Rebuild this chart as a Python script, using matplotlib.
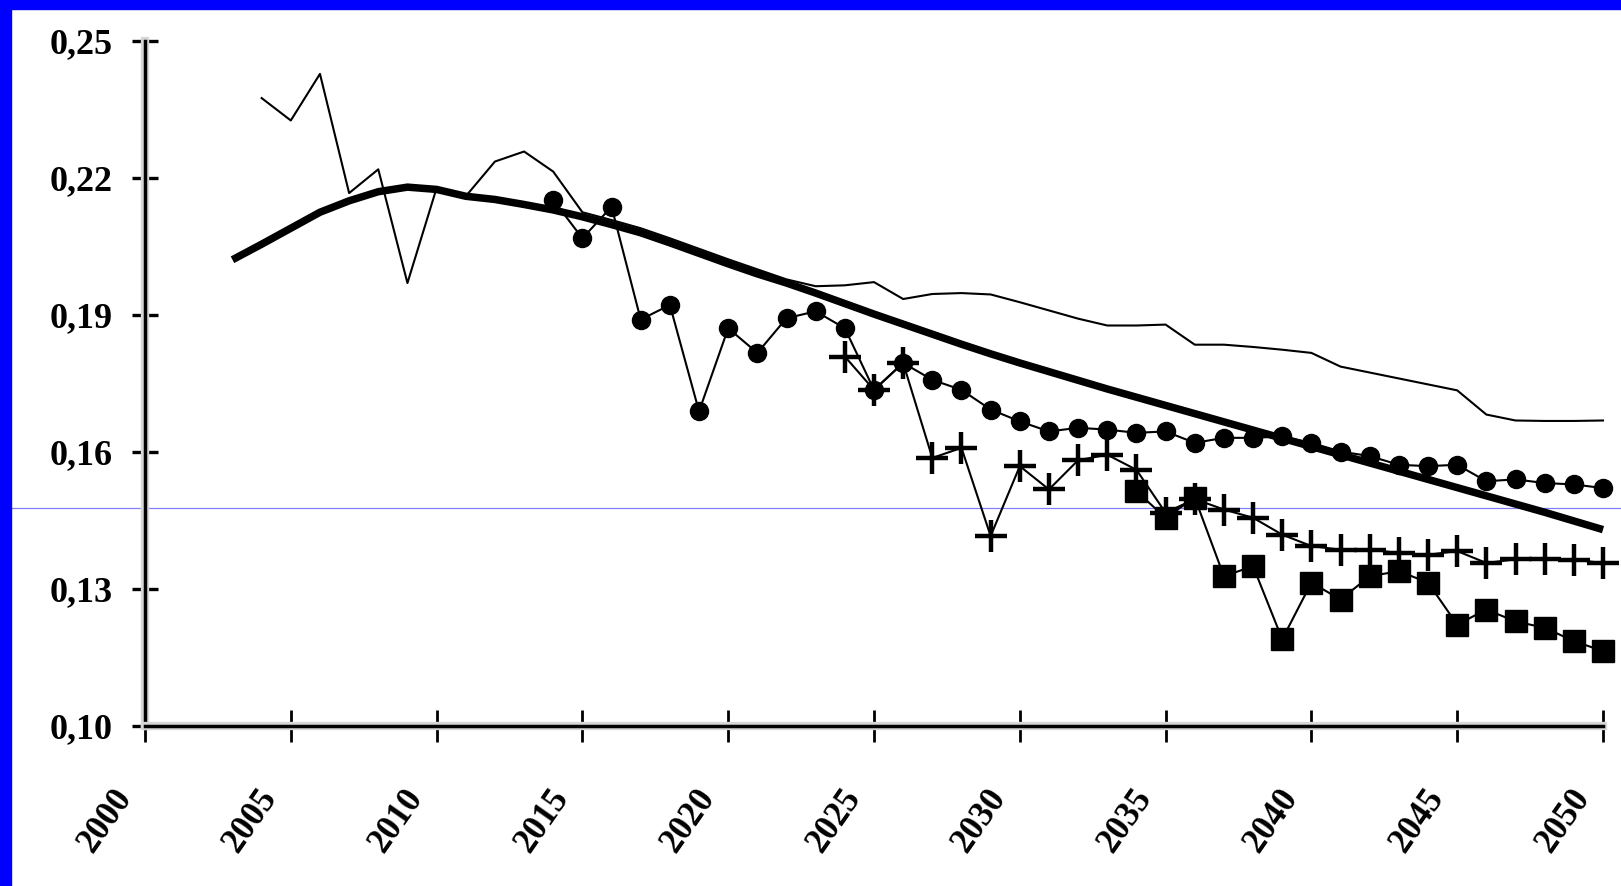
import matplotlib
matplotlib.use("Agg")
import matplotlib.pyplot as plt
import matplotlib.patheffects as pe
from matplotlib.patches import Rectangle
from matplotlib.transforms import ScaledTranslation

# ---- data ----
years_thin = list(range(2004, 2051))
thin = [0.2375, 0.2326, 0.2428, 0.2167, 0.2219, 0.1970, 0.2178, 0.2160, 0.2236, 0.2258, 0.2214,
        0.2125, 0.2108, 0.2090, 0.2068, 0.2045, 0.2022, 0.2000, 0.1978, 0.1963, 0.1965,
        0.1972, 0.1935, 0.1946, 0.1948, 0.1945, 0.1928, 0.1910, 0.1892, 0.1877, 0.1877,
        0.1879, 0.1835, 0.1835, 0.1830, 0.1824, 0.1817, 0.1787, 0.1774, 0.1761, 0.1748,
        0.1735, 0.1682, 0.1669, 0.1668, 0.1668, 0.1669]

years_trend = list(range(2003, 2051))
trend = [0.2021, 0.2055, 0.2090, 0.2125, 0.2150, 0.2170, 0.2180, 0.2175, 0.2160, 0.2153,
         0.2142, 0.2130, 0.2115, 0.2098, 0.2080, 0.2058, 0.2035, 0.2012, 0.1990, 0.1970,
         0.1948, 0.1925, 0.1902, 0.1880, 0.1858, 0.1836, 0.1815, 0.1795, 0.1776, 0.1757,
         0.1738, 0.1720, 0.1702, 0.1684, 0.1666, 0.1648, 0.1630, 0.1612, 0.1594, 0.1576,
         0.1558, 0.1540, 0.1522, 0.1504, 0.1486, 0.1468, 0.1449, 0.1430]

years_circle = list(range(2014, 2051))
circle = [0.2152, 0.2068, 0.2137, 0.1890, 0.1922, 0.1689, 0.1871, 0.1817, 0.1893, 0.1908,
          0.1871, 0.1736, 0.1795, 0.1758, 0.1736, 0.1693, 0.1667, 0.1645, 0.1653, 0.1649,
          0.1642, 0.1645, 0.1620, 0.1631, 0.1631, 0.1634, 0.1620, 0.1601, 0.1591, 0.1572,
          0.1569, 0.1572, 0.1536, 0.1540, 0.1532, 0.1529, 0.1521]

years_plus = list(range(2024, 2051))
plus = [0.1809, 0.1736, 0.1795, 0.1587, 0.1609, 0.1416, 0.1569, 0.1518, 0.1582, 0.1594,
        0.1561, 0.1467, 0.1497, 0.1474, 0.1456, 0.1419, 0.1394, 0.1386, 0.1386, 0.1379,
        0.1375, 0.1383, 0.1357, 0.1365, 0.1365, 0.1364, 0.1357]

years_square = list(range(2034, 2051))
square = [0.1514, 0.1456, 0.1500, 0.1328, 0.1350, 0.1190, 0.1314, 0.1277, 0.1328, 0.1339,
          0.1314, 0.1222, 0.1255, 0.1229, 0.1215, 0.1186, 0.1164]

x_ticks = list(range(2000, 2051, 5))
x_tick_labels = [str(y) for y in x_ticks]
y_ticks = [0.10, 0.13, 0.16, 0.19, 0.22, 0.25]
y_tick_labels = ["0,10", "0,13", "0,16", "0,19", "0,22", "0,25"]
blue_level = 0.1478

plt.rcParams["font.family"] = ["Liberation Serif", "DejaVu Serif"]
plt.rcParams["font.weight"] = "bold"

W, H = 1621, 886
fig = plt.figure(figsize=(W / 100, H / 100), dpi=100)
fig.patch.set_facecolor("white")
ax = fig.add_axes([145 / W, (H - 726) / H, 1458 / W, 685 / H])

# blue frame pieces (left and top only)
fig.add_artist(Rectangle((0, 0), 11 / W, 1, transform=fig.transFigure, color="#0000ff", zorder=10))
fig.add_artist(Rectangle((0, 1 - 9 / H), 1, 9 / H, transform=fig.transFigure, color="#0000ff", zorder=10))

# stray blue horizontal line
ax.axhline(blue_level, xmin=(11 - 145) / 1458, xmax=(W - 145) / 1458, color="#8080ff",
           lw=0.9, clip_on=False, zorder=1)

ax.plot(years_trend, trend, color="black", lw=5.4, solid_capstyle="butt", zorder=3, clip_on=False)
ax.plot(years_thin, thin, color="black", lw=1.5, zorder=4, clip_on=False)
ax.plot(years_circle, circle, color="black", lw=1.5, marker="o", ms=13, zorder=5, clip_on=False)
ax.plot(years_plus, plus, color="black", lw=1.5, marker="+", ms=23, mew=3.2, zorder=5, clip_on=False)
ax.plot(years_square, square, color="black", lw=1.5, marker="s", ms=16, zorder=5, clip_on=False)

ax.set_xlim(2000, 2050)
ax.set_ylim(0.10, 0.25)
for s in ["top", "right"]:
    ax.spines[s].set_visible(False)
for s in ["left", "bottom"]:
    ax.spines[s].set_linewidth(2.5)
    ax.spines[s].set_path_effects([pe.Stroke(linewidth=6, foreground="#d6d6d6"), pe.Normal()])

ax.set_xticks(x_ticks)
ax.set_xticklabels(x_tick_labels, rotation=55, ha="right", va="center", rotation_mode="anchor")
ax.set_yticks(y_ticks)
ax.set_yticklabels(y_tick_labels)
ax.tick_params(axis="x", direction="inout", length=23, width=2, pad=36, labelsize=25)
ax.tick_params(axis="y", direction="inout", length=19, width=2.4, pad=14, labelsize=26)

shift = ScaledTranslation(-20 / 100, 0, fig.dpi_scale_trans)
for lab in ax.get_xticklabels():
    lab.set_transform(lab.get_transform() + shift)

fig.savefig("out.png", dpi=100)
